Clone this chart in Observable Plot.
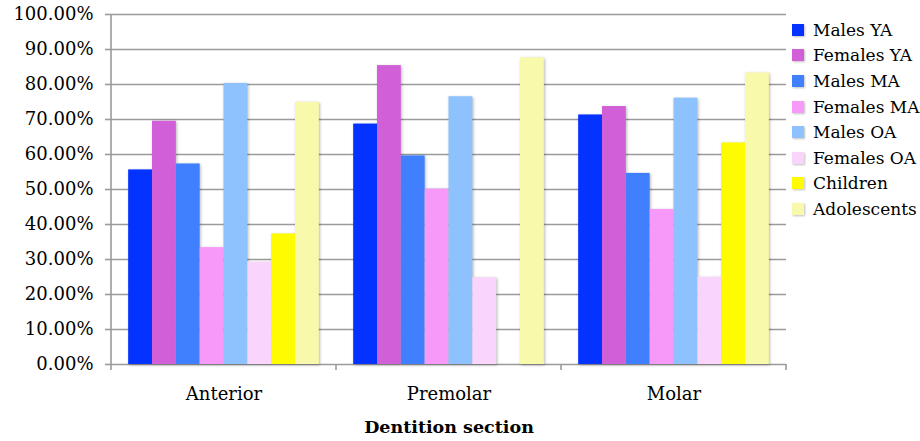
<!DOCTYPE html>
<html><head><meta charset="utf-8">
<script src="https://cdn.jsdelivr.net/npm/d3@7"></script>
<script src="https://cdn.jsdelivr.net/npm/@observablehq/plot@0.6"></script>
<style>
body{margin:0;background:#fff;}
#wrap{position:relative;width:920px;height:441px;font-family:"DejaVu Serif",serif;color:#000;}
#legend{position:absolute;left:792px;top:17px;}
.row{display:flex;align-items:center;height:25.6px;font-size:17px;white-space:nowrap;}
.sw{width:12px;height:12px;margin-right:9px;box-shadow:1px 1px 2px rgba(0,0,0,0.25);}
g[aria-label="bar"]{filter:drop-shadow(1.5px 1px 1.5px rgba(0,0,0,0.28));}
g[aria-label="fx-axis label"] text{font-weight:bold;font-size:17.5px;}
</style></head><body>
<div id="wrap"><div id="chart"></div><div id="legend"></div></div>
<script>
const categories = ["Anterior", "Premolar", "Molar"];
const series = ["Males YA", "Females YA", "Males MA", "Females MA", "Males OA", "Females OA", "Children", "Adolescents"];
const colors = ["#0433ff", "#d05fd8", "#4080ff", "#f799f9", "#8ec2fe", "#fad5fb", "#fffb00", "#f8f9ab"];
const malesYA     = [0.556, 0.687, 0.713];
const femalesYA   = [0.695, 0.854, 0.737];
const malesMA     = [0.573, 0.596, 0.546];
const femalesMA   = [0.334, 0.501, 0.443];
const malesOA     = [0.803, 0.765, 0.761];
const femalesOA   = [0.292, 0.248, 0.249];
const children    = [0.373, null,  0.633];
const adolescents = [0.749, 0.876, 0.833];
const yTickValues = [0, 0.1, 0.2, 0.3, 0.4, 0.5, 0.6, 0.7, 0.8, 0.9, 1.0];
const xTitle = "Dentition section";

const seriesValues = [malesYA, femalesYA, malesMA, femalesMA, malesOA, femalesOA, children, adolescents];
const data = [];
series.forEach((s, i) => categories.forEach((c, j) => {
  const v = seriesValues[i][j];
  if (v != null) data.push({category: c, series: s, value: v});
}));

const grid = "#9a9a9a";
const chart = Plot.plot({
  width: 790, height: 441,
  marginLeft: 111, marginRight: 4, marginTop: 14, marginBottom: 77,
  style: {fontFamily: "DejaVu Serif, serif", fontSize: "18px", color: "#000", background: "#fff"},
  fx: {domain: categories, padding: 0, round: false, label: null},
  x: {domain: series, paddingInner: 0, paddingOuter: 0.72, round: false, axis: null},
  y: {domain: [0, 1], axis: null},
  color: {domain: series, range: colors},
  marks: [
    Plot.ruleY(yTickValues, {stroke: grid, strokeWidth: 1.6}),
    Plot.barY(data, {fx: "category", x: "series", y: "value", fill: "series"}),
    Plot.axisY({ticks: yTickValues, tickFormat: d => (d * 100).toFixed(2) + "%", tickSize: 6, tickPadding: 12, stroke: grid, strokeWidth: 1.6, label: null, fontSize: 18}),
    Plot.axisFx({anchor: "bottom", tickSize: 0, tickPadding: 23, fontSize: 18, label: xTitle, labelAnchor: "center", labelOffset: 68})
  ]
});
document.getElementById("chart").appendChild(chart);

// axis line and category boundary ticks, from the plot's own scales
const fx = chart.scale("fx"), y = chart.scale("y");
const y0 = y.apply(0), yTop = y.apply(1);
const bounds = categories.map(c => fx.apply(c)).concat([fx.apply(categories[categories.length - 1]) + fx.bandwidth]);
const g = d3.select(chart).append("g").attr("stroke", grid).attr("stroke-width", 1.6);
g.append("line").attr("x1", bounds[0]).attr("x2", bounds[0]).attr("y1", yTop).attr("y2", y0 + 6);
g.selectAll(".bt").data(bounds.slice(1)).join("line").attr("x1", d => d).attr("x2", d => d).attr("y1", y0).attr("y2", y0 + 6);

const legend = d3.select("#legend");
series.forEach((s, i) => {
  const row = legend.append("div").attr("class", "row");
  row.append("div").attr("class", "sw").style("background", colors[i]);
  row.append("span").text(s);
});
</script>
</body></html>
